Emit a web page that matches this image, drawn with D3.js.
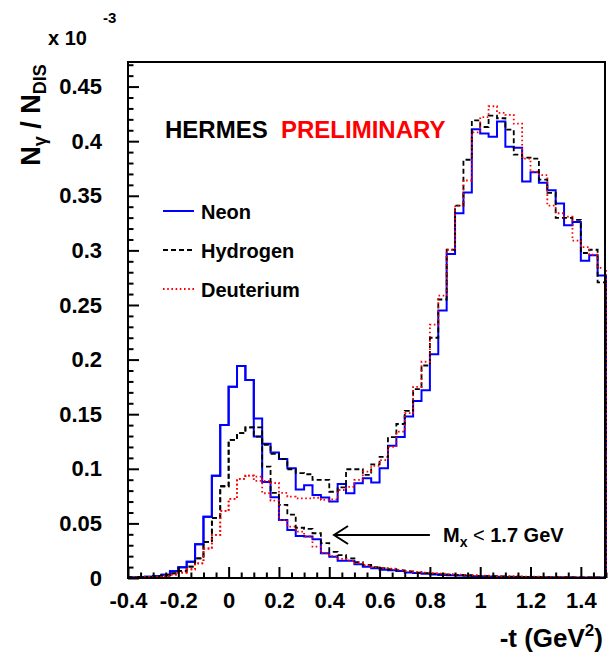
<!DOCTYPE html>
<html><head><meta charset="utf-8">
<script src="https://cdn.jsdelivr.net/npm/d3@7"></script>
<style>
body{margin:0;background:#fff}
svg{display:block}
text{font-family:"Liberation Sans",Arial,Helvetica,sans-serif;font-weight:bold;fill:#000}
</style>
</head><body>
<svg id="chart" width="608" height="656"></svg>
<script>
// ---- histogram binning (57 bins from -0.4 to 1.5) ----
const binLow = -0.4, binHigh = 1.5;

// ---- series values (units of 1e-3) ----
const neonAll = [0.0005,0.001,0.0012,0.0015,0.003,0.0062,0.0098,0.0148,0.0309,0.0562,0.0936,0.140,0.1752,0.1942,0.1812,
  0.146,0.123,0.115,0.109,0.1005,0.081,0.085,0.076,0.0736,0.070,0.086,0.0776,0.0868,0.0914,0.0874,
  0.1005,0.121,0.129,0.148,0.162,0.172,0.205,0.245,0.2967,0.334,0.353,0.411,0.407,0.404,0.418,
  0.395,0.394,0.363,0.3715,0.362,0.355,0.343,0.323,0.326,0.2905,0.2955,0.277];
const neonMx = [0.0005,0.001,0.0012,0.0015,0.003,0.0062,0.0098,0.0148,0.0309,0.0562,0.0936,0.140,0.1752,0.1942,0.1812,
  0.1295,0.088,0.074,0.053,0.044,0.0385,0.038,0.0355,0.0226,0.0195,0.0159,0.0157,0.0125,0.0104,0.0089,
  0.0075,0.007,0.0065,0.005,0.0045,0.004,0.0032,0.0028,0.0025,0.0022,0.002,0.0016,0.0015,0.0013,0.0012,
  0.001,0.001,0.0009,0.0008,0.0008,0.0007,0.0006,0.0006,0.0005,0.0005,0.0004,0.0004];
const hydAll = [0.0005,0.0008,0.001,0.0015,0.0025,0.0043,0.0065,0.0105,0.018,0.033,0.055,0.084,0.1265,0.1326,0.138,
  0.138,0.122,0.1136,0.1088,0.0996,0.096,0.095,0.0898,0.0898,0.079,0.083,0.0996,0.0996,0.0944,0.104,
  0.111,0.129,0.141,0.153,0.173,0.1946,0.22,0.255,0.3006,0.341,0.383,0.419,0.413,0.4234,0.421,
  0.4106,0.3877,0.385,0.384,0.3648,0.3526,0.3297,0.3297,0.328,0.2976,0.3006,0.2707];
const hydMx = [0.0005,0.0008,0.001,0.0015,0.0025,0.0043,0.0065,0.0105,0.018,0.033,0.055,0.084,0.1265,0.1326,0.138,
  0.1295,0.102,0.078,0.067,0.058,0.046,0.045,0.041,0.032,0.024,0.021,0.018,0.0145,0.012,0.010,
  0.009,0.008,0.007,0.006,0.005,0.0045,0.004,0.0035,0.003,0.0028,0.0025,0.002,0.0018,0.0016,0.0015,
  0.0013,0.0012,0.001,0.001,0.0009,0.0008,0.0008,0.0007,0.0006,0.0006,0.0005,0.0005];
const deuAll = [0.0004,0.0006,0.0008,0.001,0.0018,0.003,0.005,0.008,0.0134,0.027,0.0394,0.0614,0.0724,0.0907,0.0938,
  0.0929,0.089,0.087,0.078,0.0745,0.073,0.073,0.0735,0.0715,0.072,0.0806,0.0834,0.0898,0.0974,0.1026,
  0.108,0.120,0.134,0.151,0.175,0.198,0.232,0.2585,0.3006,0.341,0.364,0.408,0.422,0.432,0.426,
  0.424,0.416,0.384,0.372,0.369,0.341,0.334,0.331,0.309,0.303,0.296,0.284];
const deuMx = [0.0004,0.0006,0.0008,0.001,0.0018,0.003,0.005,0.008,0.0134,0.027,0.0394,0.0614,0.0724,0.0907,0.0938,
  0.089,0.0776,0.0709,0.053,0.047,0.0425,0.038,0.0287,0.0226,0.020,0.0175,0.016,0.0135,0.0115,0.010,
  0.009,0.0085,0.0075,0.0065,0.0055,0.005,0.0045,0.004,0.0035,0.003,0.0028,0.0025,0.0022,0.002,0.0018,
  0.0016,0.0014,0.0013,0.0012,0.001,0.001,0.0009,0.0008,0.0008,0.0007,0.0006,0.0006];

// ---- axis ticks ----
const xTickValues = [-0.4,-0.2,0,0.2,0.4,0.6,0.8,1,1.2,1.4];
const xTickLabels = ["-0.4","-0.2","0","0.2","0.4","0.6","0.8","1","1.2","1.4"];
const yTickValues = [0,0.05,0.1,0.15,0.2,0.25,0.3,0.35,0.4,0.45];
const yTickLabels = ["0","0.05","0.1","0.15","0.2","0.25","0.3","0.35","0.4","0.45"];
const legendNames = ["Neon","Hydrogen","Deuterium"];

// ---- layout ----
const W = 608, H = 656;
const m = {left:128, right:2, top:62, bottom:78};
const svg = d3.select("#chart");
const x = d3.scaleLinear().domain([binLow, binHigh]).range([m.left, W - m.right]);
const y = d3.scaleLinear().domain([0, 0.4725]).range([H - m.bottom, m.top]);

const nB = neonAll.length;
const edges = d3.range(nB + 1).map(k => binLow + k * (binHigh - binLow) / nB);

function histPoints(vals){
  const pts = [[edges[0], 0]];
  vals.forEach((v,i) => { pts.push([edges[i], v]); pts.push([edges[i+1], v]); });
  pts.push([edges[nB], 0]);
  return pts;
}
const line = d3.line().x(d => x(d[0])).y(d => y(d[1]));

const styles = {
  neon: {stroke:"#0000ff", dash:null, w:2},
  hyd:  {stroke:"#000000", dash:"5,3", w:1.8},
  deu:  {stroke:"#ff0000", dash:"1.6,2.6", w:1.8}
};
const series = [
  {vals:neonMx, s:styles.neon}, {vals:neonAll, s:styles.neon},
  {vals:hydMx, s:styles.hyd}, {vals:hydAll, s:styles.hyd},
  {vals:deuMx, s:styles.deu}, {vals:deuAll, s:styles.deu}
];
const g = svg.append("g");
series.forEach(sr => {
  g.append("path").attr("d", line(histPoints(sr.vals)))
    .attr("fill","none").attr("stroke", sr.s.stroke).attr("stroke-width", sr.s.w)
    .attr("stroke-dasharray", sr.s.dash).attr("stroke-linejoin","miter");
});

// ---- axes ----
const xMinor = d3.range(-8, 31).map(k => k * 0.05).filter(v => !xTickValues.some(t => Math.abs(t - v) < 1e-9));
const yMinor = d3.range(0, 48).map(k => k * 0.01).filter(v => !yTickValues.some(t => Math.abs(t - v) < 1e-9));

svg.append("g").attr("transform", `translate(0,${H - m.bottom})`)
  .call(d3.axisBottom(x).tickValues(xTickValues).tickFormat((d,i) => xTickLabels[i])
    .tickSizeInner(-11).tickSizeOuter(0).tickPadding(14));
svg.append("g").attr("transform", `translate(0,${H - m.bottom})`)
  .call(d3.axisBottom(x).tickValues(xMinor).tickFormat("").tickSizeInner(-5.5).tickSizeOuter(0));
svg.append("g").attr("transform", `translate(${m.left},0)`)
  .call(d3.axisLeft(y).tickValues(yTickValues).tickFormat((d,i) => yTickLabels[i])
    .tickSizeInner(-11).tickSizeOuter(0).tickPadding(26));
svg.append("g").attr("transform", `translate(${m.left},0)`)
  .call(d3.axisLeft(y).tickValues(yMinor).tickFormat("").tickSizeInner(-5.5).tickSizeOuter(0));
svg.selectAll(".domain").remove();
svg.selectAll(".tick line").attr("stroke","#000").attr("stroke-width",2);
svg.selectAll(".tick text").attr("font-size",22).attr("font-family","Liberation Sans, Arial, sans-serif").attr("font-weight","bold").attr("fill","#000");

// frame
svg.append("rect").attr("x", m.left).attr("y", m.top)
  .attr("width", W - m.left - m.right - 1).attr("height", H - m.top - m.bottom)
  .attr("fill","none").attr("stroke","#000").attr("stroke-width",2);

// ---- titles ----
svg.append("text").attr("x", 603).attr("y", 647).attr("text-anchor","end").attr("font-size",26)
  .html('-t (GeV<tspan dy="-11" font-size="17">2</tspan><tspan dy="11">)</tspan>');

svg.append("text").attr("transform","translate(40,115) rotate(-90)").attr("text-anchor","middle").attr("font-size",27)
  .html('N<tspan dy="6" font-size="18">γ</tspan><tspan dy="-6"> / N</tspan><tspan dy="6" font-size="18">DIS</tspan>');

svg.append("text").attr("x", 48).attr("y", 45).attr("font-size",20).text("x 10");
svg.append("text").attr("x", 103).attr("y", 23).attr("font-size",15).text("-3");

svg.append("text").attr("x",165).attr("y",138).attr("font-size",24).text("HERMES");
svg.append("text").attr("x",281).attr("y",138).attr("font-size",24).style("fill","#ff0000").text("PRELIMINARY");

// ---- legend ----
const legY = [211, 250, 289];
[styles.neon, styles.hyd, styles.deu].forEach((s,i) => {
  svg.append("line").attr("x1",163).attr("x2",194).attr("y1",legY[i]).attr("y2",legY[i])
    .attr("stroke", s.stroke).attr("stroke-width", s.w).attr("stroke-dasharray", s.dash);
  svg.append("text").attr("x",201).attr("y",legY[i] + 8).attr("font-size",20).text(legendNames[i]);
});

// ---- annotation arrow ----
const arrY = 0.0394, arrTip = 0.419, arrEnd = 0.80;
svg.append("line").attr("x1", x(arrTip)).attr("x2", x(arrEnd)).attr("y1", y(arrY)).attr("y2", y(arrY))
  .attr("stroke","#000").attr("stroke-width",2);
svg.append("path").attr("d", `M${x(arrTip)+14},${y(arrY)-9} L${x(arrTip)},${y(arrY)} L${x(arrTip)+14},${y(arrY)+9}`)
  .attr("fill","none").attr("stroke","#000").attr("stroke-width",2);
svg.append("text").attr("x", x(0.852)).attr("y", y(0.0331)).attr("font-size",20)
  .html('M<tspan dy="5" font-size="14">x</tspan><tspan dy="-5" font-weight="normal"> &lt; </tspan>1.7 GeV');
</script>
</body></html>
